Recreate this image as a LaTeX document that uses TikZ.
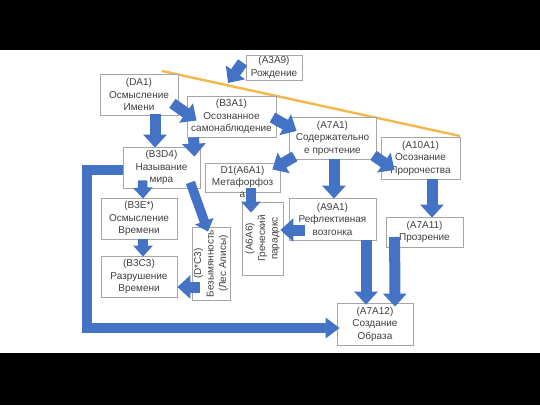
\documentclass[tikz,border=0pt]{standalone}
\usepackage{fontspec}
\setmainfont{Liberation Sans}
\usepackage{graphicx}
\usetikzlibrary{arrows.meta,calc}
\definecolor{ablue}{HTML}{4472C4}
\definecolor{gold}{HTML}{F2B84B}
\definecolor{boxgray}{HTML}{A6A6A6}
\definecolor{txt}{HTML}{404040}
\tikzset{
  box/.style={draw=boxgray, line width=0.8pt, fill=white, align=center, text=txt,
    font=\fontsize{10}{12.5}\selectfont, inner sep=0pt},
  plain/.style={align=center, text=txt, font=\fontsize{10}{12.2}\selectfont, inner sep=0pt},
  barrow/.style={draw=ablue, line width=11pt, -{Triangle[length=13pt,width=23pt]}},
  sarrow/.style={draw=ablue, line width=9.5pt, -{Triangle[length=11pt,width=19pt]}},
  elbowarrow/.style={draw=ablue, line width=10pt, line join=miter, -{Triangle[length=14pt,width=20pt]}},
}
\newcommand{\rottext}[1]{\rotatebox{90}{\begin{tabular}{@{}c@{}}#1\end{tabular}}}
\begin{document}
\begin{tikzpicture}[x=1pt,y=-1pt]
\useasboundingbox (0,0) rectangle (540,405);
\fill[white] (0,0) rectangle (540,405);
\fill[black] (0,0) rectangle (540,50);
\fill[black] (0,353) rectangle (540,405);

% golden line
\coordinate (gA) at (162,71);
\coordinate (gB) at (460,136);
\draw[gold, line width=2.4pt] (gA) -- (gB);

% boxes
\node[box, minimum width=56, minimum height=25] (a3a9) at (274,67.5) {(A3A9)\\Рождение};
\node[box, minimum width=78, minimum height=41] (da1) at (139,94.5) {(DA1)\\Осмысление\\Имени};
\node[box, minimum width=89, minimum height=41] (b3a1) at (231.5,116.5) {(B3A1)\\Осознанное\\самонаблюдение};
\node[box, minimum width=87, minimum height=42] (a7a1) at (332.5,138) {(A7A1)\\Содержательно\\е прочтение};
\node[box, minimum width=79, minimum height=42] (a10a1) at (420.5,158) {(A10A1)\\Осознание\\Пророчества};
\node[box, minimum width=77, minimum height=41] (b3d4) at (161.5,167.5) {(B3D4)\\Называние\\мира};
\node[box, minimum width=75, minimum height=29] (d1a6a1) at (242.5,177.5) {};
\node[plain, anchor=north] (d1txt) at (242.5,166) {D1(A6A1)\\Метафорфоз\\а};
\node[box, minimum width=76, minimum height=41] (b3e) at (139,218.5) {(B3E*)\\Осмысление\\Времени};
\node[box, minimum width=76, minimum height=41] (b3c3) at (139,276.5) {(B3C3)\\Разрушение\\Времени};
\node[box, minimum width=38, minimum height=73] (dc3) at (211,263.5) {\rottext{(D*C3)\\Безымянность\\(Лес Алисы)}};
\node[box, minimum width=41, minimum height=73] (a6a6) at (262.5,238.5) {\rottext{(A6A6)\\Греческий\\парадокс}};
\node[box, minimum width=87, minimum height=42] (a9a1) at (332.5,219) {(A9A1)\\Рефлективная\\возгонка};
\node[box, minimum width=77, minimum height=30] (a7a11) at (424.5,232) {(A7A11)\\Прозрение};
\node[box, minimum width=76, minimum height=42] (a7a12) at (375,324) {(A7A12)\\Создание\\Образа};

% arrows
\coordinate (birth) at (228,83);
\draw[barrow] ($(a3a9.west)+(-3,-5)$) -- (birth);
\draw[barrow] ($(da1.south east)+(-6,-12)$) -- ($(b3a1.west)+(10,4)$);
\draw[barrow] ($(da1.south)+(16,-1)$) -- ($(b3d4.north)+(-6.5,1)$);
\draw[barrow] ($(b3a1.south west)+(7,0)$) -- ($(b3d4.north east)+(-6,10)$);
\draw[barrow] ($(b3a1.east)+(-4,1)$) -- ($(a7a1.west)+(8,-7)$);
\draw[barrow] ($(a7a1.south east)+(-3,-4)$) -- ($(a10a1.west)+(14,12)$);
\draw[barrow] ($(a7a1.south)+(1.5,0)$) -- ($(a9a1.north)+(1.5,1)$);
\draw[barrow] ($(a7a1.south west)+(6,-3)$) -- ($(d1a6a1.east)+(-8,-8)$);
\draw[barrow] ($(a10a1.south)+(11.5,0)$) -- ($(a7a11.north)+(7.5,1)$);
\draw[sarrow] ($(b3d4.south west)+(20,-8)$) -- ($(b3e.north)+(4,1)$);
\draw[sarrow] ($(b3d4.south east)+(-10,-6)$) -- ($(dc3.north)+(-3,5)$);
\draw[sarrow] ($(d1a6a1.south)+(8.5,-4)$) -- ($(a6a6.north)+(-11.5,11)$);
\draw[sarrow] ($(b3e.south)+(4,0)$) -- ($(b3c3.north)+(4,1)$);
\draw[barrow] ($(dc3.west)+(8,23.5)$) -- ($(b3c3.east)+(0,10.5)$);
\draw[barrow] ($(a9a1.west)+(16,11)$) -- ($(a6a6.east)+(-3,-8.5)$);
\draw[barrow] ($(a9a1.south)+(33.5,0)$) -- ($(a7a12.north)+(-9,2)$);
\draw[barrow] ($(a7a11.west)+(9,5)$) -- ($(a7a12.north)+(20,4)$);
\draw[elbowarrow] ($(b3d4.west)+(0,2.5)$) -- ++(-35.5,0) |- ($(a7a12.west)+(3,4)$);
\end{tikzpicture}
\end{document}
